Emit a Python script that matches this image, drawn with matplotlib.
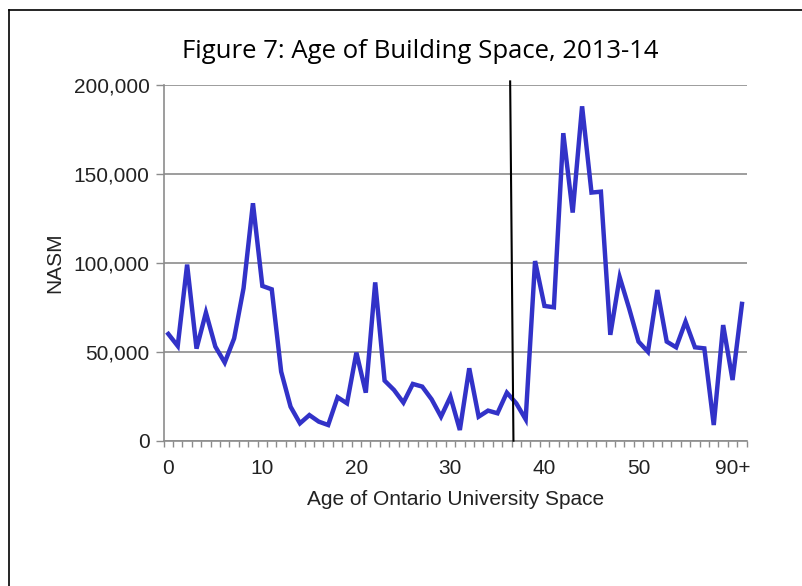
import matplotlib.pyplot as plt
from matplotlib.lines import Line2D
import numpy as np

# ── DATA ──────────────────────────────────────────────
ages = np.arange(62)
nasm = [60000, 53250, 99000, 51750, 72000, 52900, 43900, 57500, 85700, 133500,
        87000, 85100, 38800, 19100, 9750, 14400, 10700, 8800, 24400, 21000,
        49500, 27000, 89000, 33750, 28500, 21400, 31900, 30400, 23250, 13500,
        24750, 6000, 40700, 13500, 16900, 15400, 27000, 21000, 12000, 101000,
        75750, 75000, 172900, 128250, 188000, 139500, 140000, 59500, 91900, 74400,
        55700, 50000, 84700, 55700, 52500, 66900, 52500, 51900, 8800, 65000,
        34100, 76900]
tick_pos    = [0, 10, 20, 30, 40, 50, 60]
tick_labels = ['0', '10', '20', '30', '40', '50', '90+']
y_ticks     = [0, 50000, 100000, 150000, 200000]

line_color = '#3232C8'
grid_color = '#8C8C8C'
font_axis  = 'Liberation Sans'
text_color = '#222222'

fig = plt.figure(figsize=(8.02, 5.86), dpi=100)
ax = fig.add_axes([0.204, 0.248, 0.727, 0.607])

ax.plot(ages, nasm, color=line_color, linewidth=3.2, solid_joinstyle='miter', zorder=3)

# black divider line (slightly slanted as in the original)
ax.add_line(Line2D([36.35, 36.7], [202000, 0], color='black', linewidth=1.5,
                   clip_on=False, zorder=4))

ax.set_xlim(-0.5, 61.5)
ax.set_ylim(0, 200000)

ax.set_yticks(y_ticks)
ax.set_yticklabels([f'{v:,}' for v in y_ticks], fontsize=15, family=font_axis, color=text_color)
ax.set_xticks(tick_pos)
ax.set_xticklabels(tick_labels, fontsize=15, family=font_axis, color=text_color)
ax.tick_params(axis='x', length=0, pad=13)
ax.set_xticks(np.arange(-0.5, 62, 1), minor=True)
ax.tick_params(axis='x', which='minor', length=4.5, color=grid_color, width=1)
ax.tick_params(axis='y', length=6, color=grid_color, width=1, pad=4)

ax.yaxis.grid(True, color=grid_color, linewidth=1.2)
ax.set_axisbelow(True)
for s in ['top', 'right']:
    ax.spines[s].set_visible(False)
for s in ['left', 'bottom']:
    ax.spines[s].set_color(grid_color)
    ax.spines[s].set_linewidth(1.2)

ax.set_xlabel('Age of Ontario University Space', fontsize=15, family=font_axis,
              color=text_color, labelpad=9)
ax.set_ylabel('NASM', fontsize=15, family=font_axis, color=text_color, labelpad=7)

fig.text(0.524, 0.912, 'Figure 7: Age of Building Space, 2013-14', ha='center', va='center',
         fontsize=18.5, family='Open Sans', color='black')

# frame around the figure (left and top edges visible)
fig.add_artist(Line2D([9/802, 9/802], [0, 1 - 10/586], color='black', linewidth=1.2))
fig.add_artist(Line2D([9/802, 1], [1 - 10/586, 1 - 10/586], color='black', linewidth=1.2))

fig.savefig('out.png', dpi=100)
